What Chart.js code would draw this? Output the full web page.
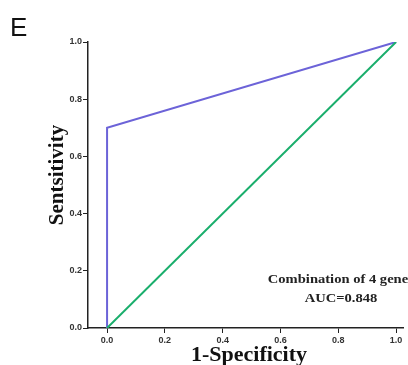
<!DOCTYPE html>
<html><head><meta charset="utf-8">
<script src="https://cdn.jsdelivr.net/npm/chart.js@4"></script>
<style>html,body{margin:0;padding:0;background:#fff;}#wrap{width:408px;height:365px;position:relative;}</style>
</head><body><div id="wrap"><canvas id="c" width="408" height="365"></canvas></div>
<script>
const rocFPR = [0.0, 0.0, 1.0];
const rocTPR = [0.0, 0.7, 1.0];
const refFPR = [0.0, 1.0];
const refTPR = [0.0, 1.0];
const tickValues = [0.0, 0.2, 0.4, 0.6, 0.8, 1.0];
const panelLabel = 'E';
const xTitle = '1-Specificity';
const yTitle = 'Sentsitivity';
const annotation = ['Combination of 4 gene', 'AUC=0.848'];

const toPts = (xs, ys) => xs.map((x, i) => ({x: x, y: ys[i]}));

const textPlugin = {
  id: 'texts',
  afterDraw(chart) {
    const ctx = chart.ctx; const a = chart.chartArea;
    ctx.save();
    ctx.fillStyle = '#111';
    ctx.font = '26px "Liberation Sans", Arial, sans-serif';
    ctx.textAlign = 'left'; ctx.textBaseline = 'alphabetic';
    ctx.fillText(panelLabel, 10, 36);
    ctx.font = 'bold 22px "Liberation Serif", "Times New Roman", serif';
    ctx.textAlign = 'center'; ctx.textBaseline = 'alphabetic';
    ctx.fillText(xTitle, 249, 361);
    ctx.save();
    ctx.translate(63, 175);
    ctx.rotate(-Math.PI / 2);
    ctx.font = 'bold 21px "Liberation Serif", "Times New Roman", serif';
    ctx.fillText(yTitle, 0, 0);
    ctx.restore();
    ctx.font = 'bold 13px "Liberation Serif", "Times New Roman", serif';
    ctx.fillStyle = '#222';
    ctx.save();
    ctx.translate(338, 283);
    ctx.scale(1.12, 1);
    ctx.fillText(annotation[0], 0, 0);
    ctx.restore();
    ctx.save();
    ctx.translate(341, 302);
    ctx.scale(1.12, 1);
    ctx.fillText(annotation[1], 0, 0);
    ctx.restore();
    ctx.restore();
  }
};

new Chart(document.getElementById('c'), {
  type: 'line',
  data: {
    datasets: [
      {data: toPts(refFPR, refTPR), borderColor: '#1aae6c', borderWidth: 2, pointRadius: 0, tension: 0},
      {data: toPts(rocFPR, rocTPR), borderColor: '#6c63d8', borderWidth: 2, pointRadius: 0, tension: 0}
    ]
  },
  options: {
    responsive: false, animation: false,
    layout: {padding: {top: 42, right: 5, left: 0, bottom: 0}},
    plugins: {legend: {display: false}, tooltip: {enabled: false}},
    elements: {line: {fill: false}},
    scales: {
      x: {
        type: 'linear', min: -0.066, max: 1.024,
        afterBuildTicks: s => { s.ticks = tickValues.map(v => ({value: v})); },
        afterFit: s => { s.height = 37; },
        grid: {drawOnChartArea: false, drawTicks: true, tickLength: 5, color: '#222', lineWidth: 1},
        border: {display: true, color: '#222', width: 1.5},
        ticks: {padding: 2, color: '#333', font: {family: '"Liberation Sans", Arial, sans-serif', size: 9, weight: 'bold'},
                callback: v => Number(v).toFixed(1), maxRotation: 0}
      },
      y: {
        type: 'linear', min: 0, max: 1,
        afterBuildTicks: s => { s.ticks = tickValues.map(v => ({value: v})); },
        afterFit: s => { s.width = 88; },
        grid: {drawOnChartArea: false, drawTicks: true, tickLength: 5, color: '#222', lineWidth: 1},
        border: {display: true, color: '#222', width: 1.5},
        ticks: {padding: 1, color: '#333', font: {family: '"Liberation Sans", Arial, sans-serif', size: 9, weight: 'bold'},
                callback: v => Number(v).toFixed(1)}
      }
    }
  },
  plugins: [textPlugin]
});
</script></body></html>
